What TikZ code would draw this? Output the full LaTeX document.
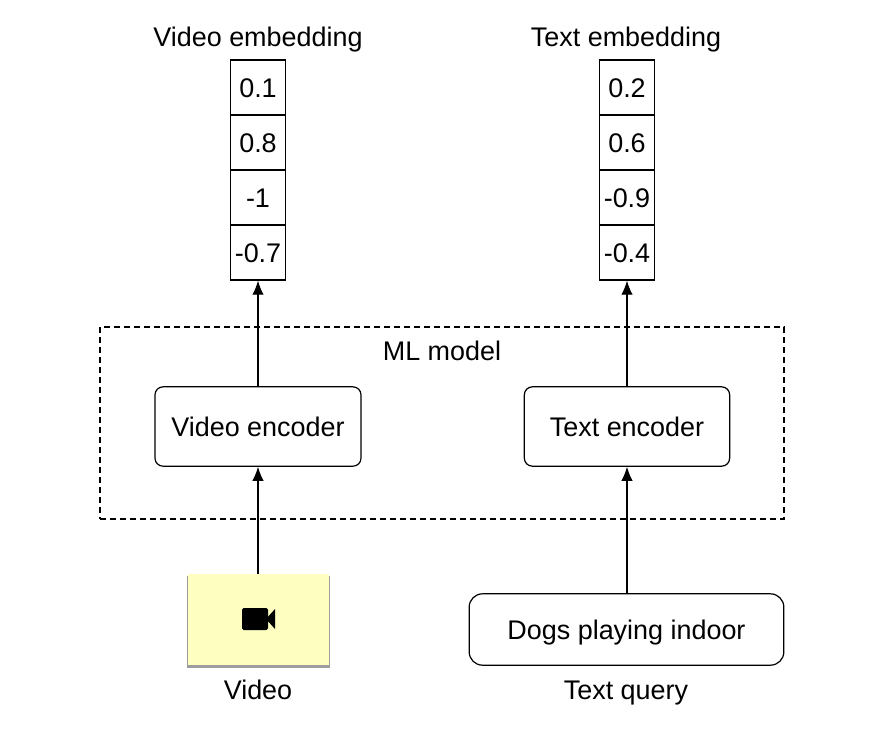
\documentclass[tikz,border=0pt]{standalone}
\usepackage{fontspec}
\setmainfont{Liberation Sans}
\usetikzlibrary{shadows,arrows.meta}
\definecolor{noteyellow}{HTML}{FEFEC0}
\tikzset{
  label text/.style={font=\fontsize{20.2}{24}\selectfont, inner sep=0pt, text height=14.6pt, text depth=0pt},
  cell/.style={label text, draw, line width=0.9pt, minimum width=41pt, minimum height=41.25pt},
  encoder/.style={label text, draw, line width=0.9pt, rounded corners=6pt, minimum height=59.5pt},
  link/.style={line width=0.9pt, -{Latex[length=10.5pt,width=8.5pt]}},
}
\begin{document}
\begin{tikzpicture}[x=0.75pt,y=-0.75pt]
\useasboundingbox (0,0) rectangle (882,732);
\def\vx{258} %centre of the video column
\def\tx{627} %centre of the text column

% the two embedding vectors
\foreach \i/\val in {1/0.1, 2/0.8, 3/-1, 4/-0.7}
{
\node [cell] (vid\i) at (\vx, 32.5 + \i * 55) {\val};
}
\foreach \i/\val in {1/0.2, 2/0.6, 3/-0.9, 4/-0.4}
{
\node [cell] (txt\i) at (\tx, 32.5 + \i * 55) {\val};
}
\node [label text] (vidtitle) at (\vx, 37) {Video embedding};
\node [label text] (txttitle) at (626, 37) {Text embedding};

% model box
\node [draw, dash pattern=on 4.5pt off 3pt, line width=0.9pt, minimum width=513pt, minimum height=144pt, inner sep=0pt] (model) at (442, 423) {};
\node [label text] (modeltitle) at (442, 351) {ML model};
\node [encoder, minimum width=154.5pt] (videnc) at (\vx, 426.5) {Video encoder};
\node [encoder, minimum width=154pt] (txtenc) at (\tx, 426.5) {Text encoder};

% inputs
\node [fill=noteyellow, minimum width=105.5pt, minimum height=68pt, inner sep=0pt,
       drop shadow={shadow xshift=0pt, shadow yshift=-1.8pt, shadow scale=1.012, opacity=0.55, fill=black!70}] (vidnote) at (258.5, 619.5) {};
\fill [rounded corners=1.2pt] (242,608) rectangle (268,630);
\fill (266,619) -- (275,609) -- (275,629) -- cycle;
\node [label text, draw, line width=0.9pt, rounded corners=10pt, minimum width=236pt, minimum height=53.5pt] (query) at (626.5, 629.5) {Dogs playing indoor};
\node [label text] (vidlabel) at (\vx, 690) {Video};
\node [label text] (txtlabel) at (626, 690) {Text query};

% connectors
\draw [link] (vidnote.north -| videnc.south) -- (videnc.south);
\draw [link] (videnc.north) -- (vid4.south);
\draw [link] (query.north -| txtenc.south) -- (txtenc.south);
\draw [link] (txtenc.north) -- (txt4.south);
\end{tikzpicture}
\end{document}
